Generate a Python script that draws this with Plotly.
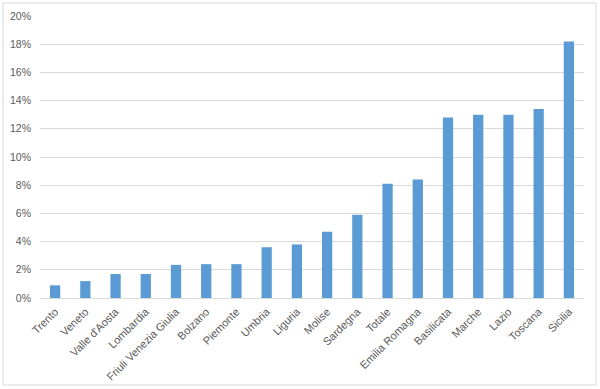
import plotly.graph_objects as go

regions = ["Trento", "Veneto", "Valle d'Aosta", "Lombardia", "Friuli Venezia Giulia",
           "Bolzano", "Piemonte", "Umbria", "Liguria", "Molise", "Sardegna", "Totale",
           "Emilia Romagna", "Basilicata", "Marche", "Lazio", "Toscana", "Sicilia"]
values = [0.009, 0.012, 0.017, 0.017, 0.0235, 0.024, 0.024, 0.036, 0.038, 0.047,
          0.059, 0.081, 0.084, 0.128, 0.130, 0.130, 0.134, 0.182]
y_ticks = [0, 0.02, 0.04, 0.06, 0.08, 0.10, 0.12, 0.14, 0.16, 0.18, 0.20]
y_labels = ["0%", "2%", "4%", "6%", "8%", "10%", "12%", "14%", "16%", "18%", "20%"]

W, H = 600, 389
ml, mr, mt, mb = 40, 16, 16, 91

fig = go.Figure(go.Bar(x=regions, y=values, marker_color="#5B9BD5",
                       marker_line_width=0))

pw = W - ml - mr
ph = H - mt - mb
fig.add_shape(type="rect", xref="paper", yref="paper",
              x0=(3 - ml) / pw, x1=(W - 4 - ml) / pw,
              y0=-(H - 4 - mt - ph) / ph, y1=(mt + ph - 3) / ph,
              line=dict(color="#D9D9D9", width=1), layer="below")

fig.update_layout(
    width=W, height=H,
    margin=dict(l=ml, r=mr, t=mt, b=mb, autoexpand=False),
    paper_bgcolor="white", plot_bgcolor="white",
    bargap=0.66, showlegend=False,
    font=dict(family="Liberation Sans, Arial, sans-serif", size=11, color="#595959"),
)
fig.update_xaxes(tickangle=-45, showgrid=False, showline=True, linecolor="#D9D9D9",
                 ticks="", automargin=False, ticklabelstandoff=2,
                 tickfont=dict(size=11, color="#595959"))
fig.update_yaxes(range=[0, 0.20], tickvals=y_ticks, ticktext=y_labels,
                 showgrid=True, gridcolor="#D9D9D9", zeroline=False, automargin=False,
                 showline=False, ticks="", ticklabelstandoff=8,
                 tickfont=dict(size=10.5, color="#595959"))

fig.write_html("out.html", config={"displayModeBar": False},
               post_script="document.body.style.margin='0';")
